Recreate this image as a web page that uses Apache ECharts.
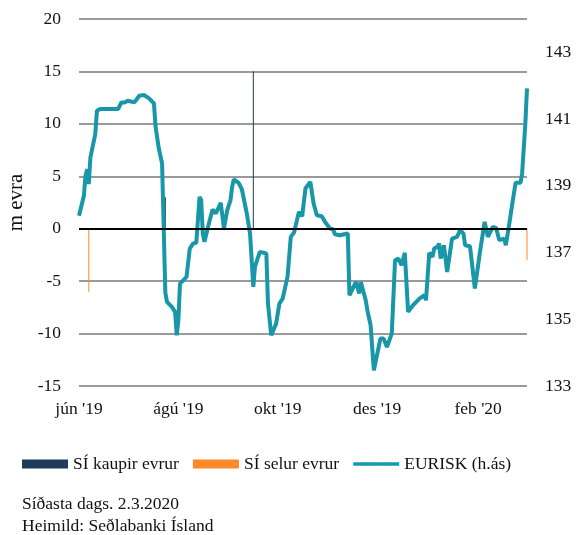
<!DOCTYPE html>
<html>
<head>
<meta charset="utf-8">
<script src="https://cdn.jsdelivr.net/npm/echarts@6/dist/echarts.min.js"></script>
<style>
  html, body { margin: 0; padding: 0; background: #fff; }
  #chart { width: 582px; height: 535px; }
</style>
</head>
<body>
<div id="chart"></div>
<script>
// EURISK gengi (hægri ás)
var eurDates = [
  '2019-06-01', '2019-06-04', '2019-06-05', '2019-06-06', '2019-06-07', '2019-06-08',
  '2019-06-11', '2019-06-12', '2019-06-14', '2019-06-25', '2019-06-27', '2019-06-29',
  '2019-07-01', '2019-07-05', '2019-07-08', '2019-07-11', '2019-07-14', '2019-07-17',
  '2019-07-18', '2019-07-20', '2019-07-22', '2019-07-24', '2019-07-25', '2019-07-28',
  '2019-07-30', '2019-07-31', '2019-08-01', '2019-08-02', '2019-08-06', '2019-08-07',
  '2019-08-08', '2019-08-10', '2019-08-12', '2019-08-14', '2019-08-15', '2019-08-16',
  '2019-08-17', '2019-08-20', '2019-08-22', '2019-08-24', '2019-08-27', '2019-08-29',
  '2019-08-30', '2019-08-31', '2019-09-02', '2019-09-03', '2019-09-04', '2019-09-07',
  '2019-09-09', '2019-09-12', '2019-09-14', '2019-09-16', '2019-09-17', '2019-09-20',
  '2019-09-24', '2019-09-25', '2019-09-27', '2019-09-30', '2019-10-02', '2019-10-04',
  '2019-10-07', '2019-10-09', '2019-10-11', '2019-10-14', '2019-10-16', '2019-10-18',
  '2019-10-21', '2019-10-23', '2019-10-25', '2019-10-28', '2019-10-30', '2019-10-31',
  '2019-11-02', '2019-11-04', '2019-11-05', '2019-11-08', '2019-11-13', '2019-11-14',
  '2019-11-15', '2019-11-18', '2019-11-20', '2019-11-21', '2019-11-24', '2019-11-25',
  '2019-11-27', '2019-11-28', '2019-11-29', '2019-12-03', '2019-12-05', '2019-12-07',
  '2019-12-10', '2019-12-12', '2019-12-14', '2019-12-16', '2019-12-18', '2019-12-20',
  '2019-12-23', '2019-12-27', '2019-12-30', '2019-12-31', '2020-01-02', '2020-01-04',
  '2020-01-05', '2020-01-07', '2020-01-08', '2020-01-09', '2020-01-11', '2020-01-13',
  '2020-01-16', '2020-01-19', '2020-01-21', '2020-01-23', '2020-01-24', '2020-01-27',
  '2020-01-30', '2020-01-31', '2020-02-02', '2020-02-05', '2020-02-06', '2020-02-07',
  '2020-02-10', '2020-02-12', '2020-02-14', '2020-02-17', '2020-02-18', '2020-02-20',
  '2020-02-22', '2020-02-24', '2020-02-27', '2020-02-28', '2020-03-01', '2020-03-02'
];
var eurValues = [
  138.1, 138.7, 139.3, 139.5, 139.05, 139.85,
  140.55, 141.25, 141.3, 141.3, 141.5, 141.5,
  141.55, 141.5, 141.7, 141.72, 141.62, 141.47,
  140.77, 140.12, 139.67, 135.8, 135.52, 135.37,
  135.22, 134.52, 134.97, 136.07, 136.27, 136.32,
  137.12, 137.27, 137.29, 138.67, 138.57, 137.57,
  137.32, 137.92, 138.29, 138.17, 138.49, 137.72,
  137.69, 138.27, 138.57, 138.97, 139.19, 139.09,
  138.89, 138.17, 137.57, 135.97, 136.57, 137.02,
  136.97, 135.47, 134.52, 134.87, 135.47, 135.62,
  136.27, 137.47, 137.6, 138.22, 138.09, 138.92,
  139.12, 138.47, 138.12, 138.09, 137.92, 137.87,
  137.72, 137.7, 137.55, 137.52, 137.57, 135.72,
  135.67, 136.12, 135.77, 136.12, 135.57, 135.27,
  134.82, 134.82, 133.47, 134.42, 134.42, 134.17,
  134.57, 136.77, 136.82, 136.62, 136.99, 135.22,
  135.42, 135.62, 135.72, 135.57, 136.99, 136.87,
  137.12, 137.17, 137.27, 136.82, 137.22, 136.42,
  137.42, 137.47, 137.67, 137.57, 137.22, 137.19,
  135.92, 135.97, 136.97, 137.92, 137.89, 137.47,
  137.77, 137.74, 137.37, 137.42, 137.22, 137.82,
  138.47, 139.09, 139.09, 139.37, 140.87, 141.92
];

// inngrip SÍ, m evra (vinstri ás)
var buyDates = ['2019-07-24', '2019-09-16'];
var buyValues = [3, 15];
var sellDates = ['2019-06-07', '2020-03-02'];
var sellValues = [-6, -3];

var xStart = '2019-06-01';
var xEnd = '2020-03-02';
var xLabelDates = ['2019-06-01', '2019-08-01', '2019-10-01', '2019-12-01', '2020-02-01'];
var monthNames = ['jan', 'feb', 'mar', 'apr', 'maí', 'jún', 'júl', 'ágú', 'sep', 'okt', 'nóv', 'des'];

// dagsetning -> ms (UTC)
function ts(s) {
  var p = s.split('-');
  return Date.UTC(+p[0], +p[1] - 1, +p[2]);
}
function pairs(dates, values) {
  return dates.map(function (d, i) { return [ts(d), values[i]]; });
}

var font = '"Liberation Serif", "DejaVu Serif", serif';
var fs = 17.5;
var myChart = echarts.init(document.getElementById('chart'));

myChart.setOption({
  animation: false,
  textStyle: { fontFamily: font },
  grid: { left: 79, right: 55, top: 19, bottom: 149, containLabel: false, outerBoundsMode: 'none' },
  legend: {
    left: 17,
    top: 450,
    itemWidth: 46,
    itemHeight: 9,
    itemGap: 14,
    textStyle: { fontFamily: font, fontSize: fs, color: '#111' },
    data: [
      { name: 'SÍ kaupir evrur', icon: 'rect' },
      { name: 'SÍ selur evrur', icon: 'rect' },
      { name: 'EURISK (h.ás)', icon: 'path://M0,0L48,0L48,3.5L0,3.5Z' }
    ]
  },
  title: {
    left: 17,
    top: 488,
    text: 'Síðasta dags. 2.3.2020\nHeimild: Seðlabanki Ísland',
    textStyle: { fontFamily: font, fontSize: fs, fontWeight: 'normal', color: '#111', lineHeight: 22 }
  },
  xAxis: {
    type: 'value',
    min: ts(xStart),
    max: ts(xEnd),
    axisLine: { show: false },
    axisTick: { show: false },
    splitLine: { show: false },
    axisLabel: {
      customValues: xLabelDates.map(ts),
      margin: 14,
      fontSize: fs,
      color: '#111',
      fontFamily: font,
      formatter: function (val) {
        var d = new Date(val);
        return monthNames[d.getUTCMonth()] + " '" + String(d.getUTCFullYear()).slice(2);
      }
    }
  },
  yAxis: [
    {
      type: 'value',
      min: -15,
      max: 20,
      interval: 5,
      name: 'm evra',
      nameLocation: 'middle',
      nameGap: 51,
      nameTextStyle: { fontFamily: font, fontSize: 21, color: '#111' },
      axisLine: { show: false },
      axisTick: { show: false },
      axisLabel: { margin: 18, fontSize: fs, color: '#111', fontFamily: font },
      splitLine: { lineStyle: { color: '#9a9a9a', width: 2 } }
    },
    {
      type: 'value',
      min: 133,
      max: 144,
      interval: 2,
      axisLine: { show: false },
      axisTick: { show: false },
      splitLine: { show: false },
      axisLabel: { margin: 18, fontSize: fs, color: '#111', fontFamily: font, showMaxLabel: false }
    }
  ],
  series: [
    {
      name: 'SÍ kaupir evrur',
      type: 'bar',
      yAxisIndex: 0,
      barWidth: 1,
      barGap: '-100%',
      z: 2,
      itemStyle: { color: '#1f3a5c' },
      data: pairs(buyDates, buyValues),
      markLine: {
        silent: true,
        symbol: 'none',
        label: { show: false },
        lineStyle: { color: '#000', width: 2, type: 'solid' },
        data: [{ yAxis: 0 }]
      }
    },
    {
      name: 'SÍ selur evrur',
      type: 'bar',
      yAxisIndex: 0,
      barWidth: 1,
      barGap: '-100%',
      z: 2,
      itemStyle: { color: '#ff8a2a' },
      data: pairs(sellDates, sellValues)
    },
    {
      name: 'EURISK (h.ás)',
      type: 'line',
      yAxisIndex: 1,
      symbol: 'none',
      z: 4,
      lineStyle: { color: '#1797a7', width: 4 },
      itemStyle: { color: '#1797a7' },
      data: pairs(eurDates, eurValues)
    }
  ]
});
</script>
</body>
</html>
